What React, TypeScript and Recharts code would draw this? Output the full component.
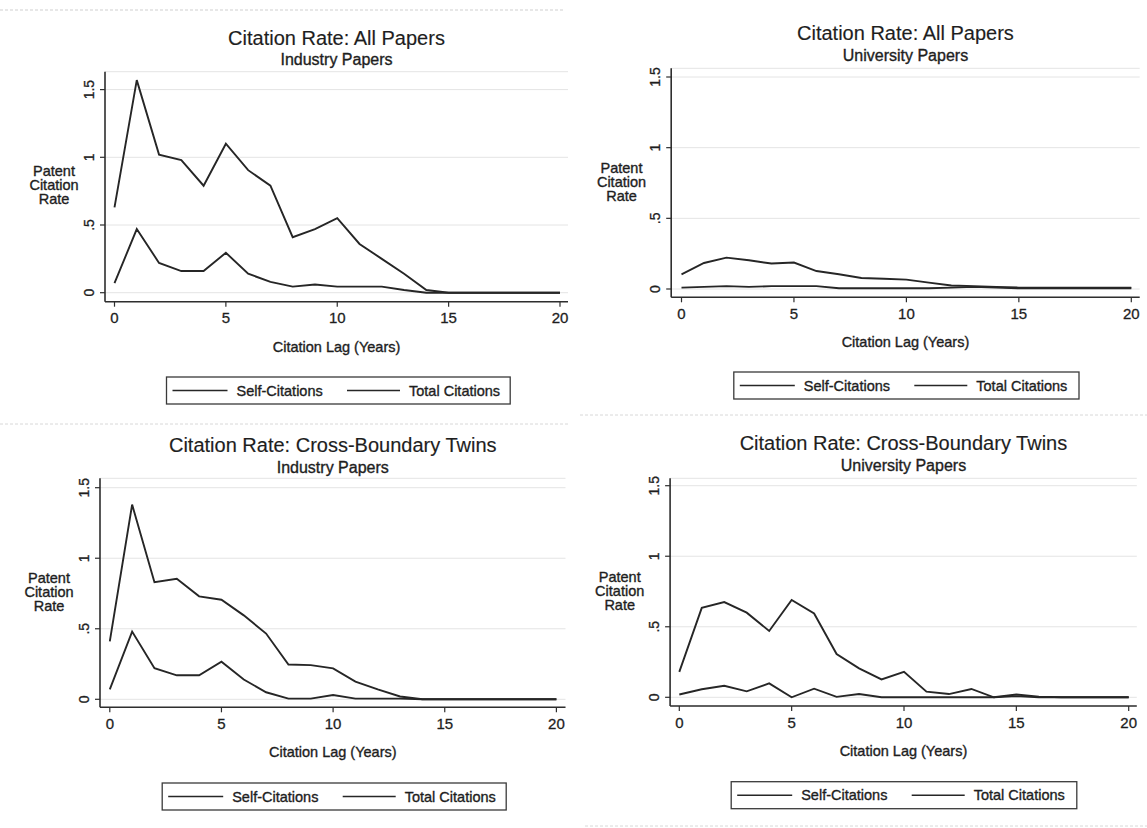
import React from "react";
import { LineChart, Line, XAxis, YAxis, CartesianGrid } from "recharts";

// Citation lag in years
const years = [0, 1, 2, 3, 4, 5, 6, 7, 8, 9, 10, 11, 12, 13, 14, 15, 16, 17, 18, 19, 20];

// All papers, industry authors
const industryAllSelf = [0.07, 0.47, 0.22, 0.16, 0.16, 0.295, 0.14, 0.08, 0.045, 0.06, 0.045, 0.045, 0.045, 0.02, 0.0, 0, 0, 0, 0, 0, 0];
const industryAllTotal = [0.63, 1.57, 1.02, 0.98, 0.79, 1.1, 0.905, 0.79, 0.41, 0.47, 0.55, 0.36, 0.25, 0.14, 0.02, 0, 0, 0, 0, 0, 0];

// All papers, university authors
const universityAllSelf = [0.01, 0.015, 0.02, 0.015, 0.02, 0.02, 0.02, 0.005, 0.005, 0.005, 0.005, 0.005, 0.01, 0.015, 0.01, 0.005, 0.005, 0.005, 0.005, 0.005, 0.005];
const universityAllTotal = [0.104, 0.184, 0.222, 0.203, 0.18, 0.187, 0.127, 0.104, 0.078, 0.073, 0.066, 0.045, 0.025, 0.02, 0.015, 0.01, 0.01, 0.01, 0.01, 0.01, 0.01];

// Cross-boundary twins, industry papers
const industryTwinSelf = [0.07, 0.48, 0.22, 0.17, 0.17, 0.266, 0.14, 0.05, 0.005, 0.005, 0.03, 0.005, 0.005, 0.005, 0, 0, 0, 0, 0, 0, 0];
const industryTwinTotal = [0.41, 1.38, 0.83, 0.854, 0.73, 0.706, 0.595, 0.466, 0.247, 0.242, 0.219, 0.125, 0.07, 0.02, 0, 0, 0, 0, 0, 0, 0];

// Cross-boundary twins, university papers
const universityTwinSelf = [0.02, 0.057, 0.082, 0.042, 0.099, 0, 0.061, 0.003, 0.023, 0, 0, 0, 0, 0, 0, 0.008, 0, 0, 0, 0, 0];
const universityTwinTotal = [0.18, 0.634, 0.675, 0.6, 0.47, 0.69, 0.594, 0.307, 0.205, 0.127, 0.18, 0.04, 0.023, 0.059, 0, 0.02, 0.005, 0, 0, 0, 0];

const xTicks = [0, 5, 10, 15, 20];
const yTicks = [0, 0.5, 1, 1.5];
const yTickLabels = ["0", ".5", "1", "1.5"];
const seriesNames = ["Self-Citations", "Total Citations"];
const yAxisTitle = ["Patent", "Citation", "Rate"];
const xAxisTitle = "Citation Lag (Years)";

const FONT = '"Liberation Sans", Arial, Helvetica, sans-serif';
const INK = "#1e1e1e";
const LINE = "#262626";
const YAXIS_W = 40;
const XAXIS_H = 30;

type Panel = {
  title: string;
  subtitle: string;
  self: number[];
  total: number[];
  box: { x: number; y: number; w: number; h: number };
  plot: { left: number; right: number; top: number; bottom: number };
  x0: number; // pixel of year 0
  x20: number; // pixel of year 20
  y0: number; // pixel of rate 0
  y15: number; // pixel of rate 1.5
  titleBase: number;
  subBase: number;
  yLabelX: number;
  yLabelBases: number[];
  xLabelBase: number;
  legend: { left: number; top: number; width: number; height: number };
};

const panels: Panel[] = [
  {
    title: "Citation Rate: All Papers",
    subtitle: "Industry Papers",
    self: industryAllSelf,
    total: industryAllTotal,
    box: { x: 0, y: 0, w: 570, h: 416 },
    plot: { left: 105, right: 568, top: 71.7, bottom: 301.7 },
    x0: 114.5, x20: 560, y0: 292.7, y15: 89.6,
    titleBase: 44.5, subBase: 65,
    yLabelX: 54, yLabelBases: [176, 190, 204],
    xLabelBase: 352,
    legend: { left: 166.5, top: 377, width: 343.7, height: 27 },
  },
  {
    title: "Citation Rate: All Papers",
    subtitle: "University Papers",
    self: universityAllSelf,
    total: universityAllTotal,
    box: { x: 570, y: 0, w: 577, h: 416 },
    plot: { left: 671.2, right: 1139.7, top: 68.3, bottom: 297.3 },
    x0: 681.5, x20: 1131.3, y0: 289, y15: 77,
    titleBase: 40, subBase: 60.7,
    yLabelX: 621.5, yLabelBases: [173, 187, 201],
    xLabelBase: 347,
    legend: { left: 733.8, top: 372, width: 345.2, height: 27 },
  },
  {
    title: "Citation Rate: Cross-Boundary Twins",
    subtitle: "Industry Papers",
    self: industryTwinSelf,
    total: industryTwinTotal,
    box: { x: 0, y: 416, w: 570, h: 412 },
    plot: { left: 100, right: 565.5, top: 478.3, bottom: 707.3 },
    x0: 109.8, x20: 556.4, y0: 699.3, y15: 487.7,
    titleBase: 452, subBase: 472.5,
    yLabelX: 49, yLabelBases: [583, 597, 611],
    xLabelBase: 757,
    legend: { left: 162.2, top: 783, width: 344, height: 27 },
  },
  {
    title: "Citation Rate: Cross-Boundary Twins",
    subtitle: "University Papers",
    self: universityTwinSelf,
    total: universityTwinTotal,
    box: { x: 570, y: 416, w: 577, h: 412 },
    plot: { left: 670.1, right: 1136.8, top: 478.3, bottom: 706 },
    x0: 679.3, x20: 1128.7, y0: 697.3, y15: 485.7,
    titleBase: 449.7, subBase: 470.7,
    yLabelX: 619.7, yLabelBases: [582, 596, 610],
    xLabelBase: 756,
    legend: { left: 731.2, top: 781.7, width: 345.6, height: 27 },
  },
];

function rowsFor(self: number[], total: number[]) {
  return years.map((year, i) => ({ year, self: self[i], total: total[i] }));
}

function YTick(props: any) {
  const { x, y, payload } = props;
  const idx = yTicks.indexOf(payload.value);
  const label = idx >= 0 ? yTickLabels[idx] : String(payload.value);
  const bx = x - 4;
  return (
    <text
      x={bx}
      y={y}
      transform={`rotate(-90 ${bx} ${y})`}
      textAnchor="middle"
      fontFamily={FONT}
      fontSize={14}
      fill={INK}
      stroke={INK}
      strokeWidth={0.3}
    >
      {label}
    </text>
  );
}

function PanelChart({ p }: { p: Panel }) {
  const pxPerYear = (p.x20 - p.x0) / 20;
  const pxPerUnit = (p.y0 - p.y15) / 1.5;
  const xDomain = [(p.plot.left - p.x0) / pxPerYear, (p.plot.right - p.x0) / pxPerYear];
  const yDomain = [(p.y0 - p.plot.bottom) / pxPerUnit, (p.y0 - p.plot.top) / pxPerUnit];
  const margin = {
    left: p.plot.left - p.box.x - YAXIS_W,
    right: p.box.x + p.box.w - p.plot.right,
    top: p.plot.top - p.box.y,
    bottom: p.box.y + p.box.h - p.plot.bottom - XAXIS_H,
  };
  return (
    <div style={{ position: "absolute", left: p.box.x, top: p.box.y, width: p.box.w, height: p.box.h }}>
      <LineChart width={p.box.w} height={p.box.h} data={rowsFor(p.self, p.total)} margin={margin}>
        <CartesianGrid vertical={false} stroke="#e4e4e4" strokeWidth={1} />
        <XAxis
          dataKey="year"
          type="number"
          domain={xDomain}
          allowDataOverflow
          ticks={xTicks}
          height={XAXIS_H}
          tickSize={5}
          tickMargin={6}
          axisLine={{ stroke: "#2e2e2e", strokeWidth: 1.6 }}
          tickLine={{ stroke: "#2e2e2e", strokeWidth: 1.2 }}
          tick={{ fontFamily: FONT, fontSize: 15, fill: INK, stroke: INK, strokeWidth: 0.3 }}
        />
        <YAxis
          type="number"
          domain={yDomain}
          allowDataOverflow
          ticks={yTicks}
          width={YAXIS_W}
          tickSize={5}
          axisLine={{ stroke: "#2e2e2e", strokeWidth: 1.6 }}
          tickLine={{ stroke: "#2e2e2e", strokeWidth: 1.2 }}
          tick={<YTick />}
        />
        <Line
          type="linear"
          dataKey="self"
          name={seriesNames[0]}
          stroke={LINE}
          strokeWidth={1.9}
          dot={false}
          isAnimationActive={false}
        />
        <Line
          type="linear"
          dataKey="total"
          name={seriesNames[1]}
          stroke={LINE}
          strokeWidth={1.9}
          dot={false}
          isAnimationActive={false}
        />
      </LineChart>
    </div>
  );
}

function PanelText({ p }: { p: Panel }) {
  const cx = (p.x0 + p.x20) / 2 + (p.plot.right - p.x20) / 2 - (p.x0 - p.plot.left) / 2;
  const lg = p.legend;
  const midY = lg.top + lg.height / 2;
  return (
    <g fontFamily={FONT} fill={INK}>
      <text x={cx} y={p.titleBase} textAnchor="middle" fontSize={20} stroke={INK} strokeWidth={0.15}>
        {p.title}
      </text>
      <text x={cx} y={p.subBase} textAnchor="middle" fontSize={16} stroke={INK} strokeWidth={0.35}>
        {p.subtitle}
      </text>
      {yAxisTitle.map((t, i) => (
        <text key={t} x={p.yLabelX} y={p.yLabelBases[i]} textAnchor="middle" fontSize={14.5} stroke={INK} strokeWidth={0.35}>
          {t}
        </text>
      ))}
      <text x={cx} y={p.xLabelBase} textAnchor="middle" fontSize={14.5} stroke={INK} strokeWidth={0.35}>
        {xAxisTitle}
      </text>
      <rect x={lg.left} y={lg.top} width={lg.width} height={lg.height} fill="#fff" stroke="#3a3a3a" strokeWidth={1.3} />
      <line x1={lg.left + 6} x2={lg.left + 61} y1={midY} y2={midY} stroke={LINE} strokeWidth={1.6} />
      <text x={lg.left + 70} y={midY + 5} fontSize={14.5} stroke={INK} strokeWidth={0.35}>
        {seriesNames[0]}
      </text>
      <line x1={lg.left + 180.5} x2={lg.left + 233.5} y1={midY} y2={midY} stroke={LINE} strokeWidth={1.6} />
      <text x={lg.left + 242.5} y={midY + 5} fontSize={14.5} stroke={INK} strokeWidth={0.35}>
        {seriesNames[1]}
      </text>
    </g>
  );
}

export default function App() {
  return (
    <div
      style={{
        position: "absolute",
        left: 0,
        top: 0,
        width: 1147,
        height: 828,
        background: "#fff",
        overflow: "hidden",
      }}
    >
      {panels.map((p, i) => (
        <PanelChart key={i} p={p} />
      ))}
      <svg
        width={1147}
        height={828}
        style={{ position: "absolute", left: 0, top: 0, pointerEvents: "none" }}
      >
        {/* faint frame edges between the four graphs */}
        <line x1={0} x2={565} y1={10} y2={10} stroke="#cfcfcf" strokeWidth={1} strokeDasharray="3 2" />
        <line x1={0} x2={570} y1={424} y2={424} stroke="#d8d8d8" strokeWidth={1} strokeDasharray="3 2" />
        <line x1={580} x2={1147} y1={415} y2={415} stroke="#d8d8d8" strokeWidth={1} strokeDasharray="3 2" />
        <line x1={585} x2={1147} y1={826} y2={826} stroke="#d8d8d8" strokeWidth={1} strokeDasharray="3 2" />
        {panels.map((p, i) => (
          <PanelText key={i} p={p} />
        ))}
      </svg>
    </div>
  );
}
